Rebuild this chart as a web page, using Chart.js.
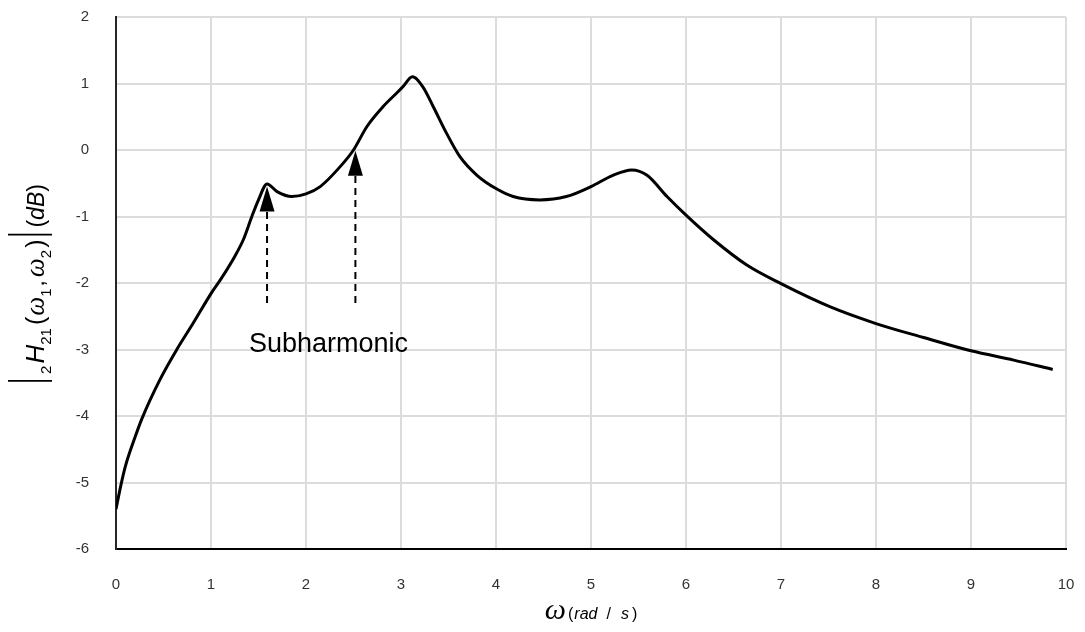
<!DOCTYPE html>
<html>
<head>
<meta charset="utf-8">
<script src="https://cdn.jsdelivr.net/npm/chart.js@4.4.0/dist/chart.umd.min.js"></script>
<style>
  html, body { margin: 0; padding: 0; background: #fff; }
  #wrap { width: 1085px; height: 632px; }
</style>
</head>
<body>
<div id="wrap"><canvas id="chart" width="1085" height="632"></canvas></div>
<script>
// 1. Data
const omega = [0, 0.05, 0.1, 0.2, 0.27, 0.46, 0.64, 0.81, 1.0, 1.1, 1.25, 1.34, 1.43, 1.5, 1.59, 1.7, 1.85, 2.0, 2.15, 2.36, 2.5, 2.64, 2.81, 2.95, 3.02, 3.12, 3.23, 3.34, 3.48, 3.62, 3.8, 4.0, 4.18, 4.46, 4.74, 5.0, 5.23, 5.43, 5.59, 5.8, 6.0, 6.29, 6.64, 7.0, 7.52, 8.0, 8.5, 9.0, 9.45, 9.86];
const magnitude = [-5.4, -5.05, -4.75, -4.32, -4.05, -3.46, -3.0, -2.61, -2.16, -1.95, -1.6, -1.35, -1.0, -0.75, -0.51, -0.63, -0.70, -0.66, -0.55, -0.25, 0.0, 0.35, 0.65, 0.85, 0.95, 1.1, 0.95, 0.65, 0.25, -0.1, -0.38, -0.58, -0.70, -0.75, -0.70, -0.55, -0.38, -0.30, -0.38, -0.70, -0.98, -1.35, -1.73, -2.01, -2.36, -2.61, -2.82, -3.02, -3.16, -3.3];

const xRange = [0, 10];
const yRange = [-6, 2];

// arrows pointing at the subharmonic peaks
const arrowX = [1.59, 2.52];
const arrowTipY = [-0.55, -0.01];
const arrowTailY = -2.3;
const noteText = "Subharmonic";
const notePos = [1.4, -3.04]; // left / baseline

// 2. Plugin: arrows + annotation text
const annotations = {
  id: "annotations",
  afterDatasetsDraw(chart) {
    const ctx = chart.ctx;
    const xs = chart.scales.x, ys = chart.scales.y;
    ctx.save();
    arrowX.forEach((ax, i) => {
      const px = xs.getPixelForValue(ax);
      const tip = ys.getPixelForValue(arrowTipY[i]);
      const tail = ys.getPixelForValue(arrowTailY);
      const headLen = 25, headHalf = 7.5;
      // dashed shaft
      ctx.beginPath();
      ctx.setLineDash([7, 5]);
      ctx.lineWidth = 2;
      ctx.strokeStyle = "#000";
      ctx.moveTo(px, tail);
      ctx.lineTo(px, tip + headLen);
      ctx.stroke();
      ctx.setLineDash([]);
      // head
      ctx.beginPath();
      ctx.fillStyle = "#000";
      ctx.moveTo(px, tip);
      ctx.lineTo(px - headHalf, tip + headLen);
      ctx.lineTo(px + headHalf, tip + headLen);
      ctx.closePath();
      ctx.fill();
    });
    ctx.font = "27px 'Liberation Sans', Arial, sans-serif";
    ctx.fillStyle = "#000";
    ctx.textAlign = "left";
    ctx.textBaseline = "alphabetic";
    ctx.fillText(noteText, xs.getPixelForValue(notePos[0]), ys.getPixelForValue(notePos[1]));
    ctx.restore();
  }
};

// 3. Plugin: axis titles with math-like pieces
const SANS = "'Liberation Sans', Arial, sans-serif";
const SERIF = "'Liberation Serif', 'Times New Roman', serif";

function drawRun(ctx, parts) {
  // parts: {t, f, dy, gap, bar}
  let x = 0;
  parts.forEach(p => {
    x += p.gap || 0;
    if (p.bar) {
      ctx.beginPath();
      ctx.lineWidth = 1.8;
      ctx.strokeStyle = "#000";
      ctx.moveTo(x + 1, p.bar[0]);
      ctx.lineTo(x + 1, p.bar[1]);
      ctx.stroke();
      x += 2;
      return;
    }
    ctx.font = p.f;
    ctx.fillText(p.t, x, p.dy || 0);
    x += ctx.measureText(p.t).width;
  });
  return x;
}

function runWidth(ctx, parts) {
  let x = 0;
  parts.forEach(p => {
    x += p.gap || 0;
    if (p.bar) { x += 2; return; }
    ctx.font = p.f;
    x += ctx.measureText(p.t).width;
  });
  return x;
}

const yTitleParts = [
  { bar: [-36, 8] },
  { t: "2", f: "15px " + SANS, dy: 7, gap: 6 },
  { t: "H", f: "italic 26px " + SANS, gap: 2 },
  { t: "21", f: "15px " + SANS, dy: 7 },
  { t: "(", f: "25px " + SANS, gap: 3 },
  { t: "ω", f: "italic 27px " + SERIF, gap: 1 },
  { t: "1", f: "15px " + SANS, dy: 7 },
  { t: ",", f: "22px " + SANS, gap: 2 },
  { t: "ω", f: "italic 27px " + SERIF, gap: 3 },
  { t: "2", f: "15px " + SANS, dy: 7 },
  { t: ")", f: "25px " + SANS, gap: 2 },
  { bar: [-36, 8], gap: 4 },
  { t: "(", f: "23px " + SANS, gap: 6 },
  { t: "dB", f: "italic 23px " + SANS },
  { t: ")", f: "23px " + SANS }
];

const xTitleParts = [
  { t: "ω", f: "italic 30px " + SERIF },
  { t: "(", f: "16px " + SANS, gap: 2 },
  { t: "rad", f: "italic 16px " + SANS, gap: 1 },
  { t: "/", f: "16px " + SANS, gap: 9 },
  { t: "s", f: "italic 16px " + SANS, gap: 10 },
  { t: ")", f: "16px " + SANS, gap: 3 }
];

const axisTitles = {
  id: "axisTitles",
  afterDraw(chart) {
    const ctx = chart.ctx;
    const area = chart.chartArea;
    ctx.save();
    ctx.fillStyle = "#000";
    ctx.textAlign = "left";
    ctx.textBaseline = "alphabetic";
    // y title, rotated
    const wy = runWidth(ctx, yTitleParts);
    const cy = (area.top + area.bottom) / 2;
    ctx.save();
    ctx.translate(44, cy + wy / 2);
    ctx.rotate(-Math.PI / 2);
    drawRun(ctx, yTitleParts);
    ctx.restore();
    // x title
    const wx = runWidth(ctx, xTitleParts);
    const cx = (area.left + area.right) / 2;
    ctx.save();
    ctx.translate(cx - wx / 2, 619);
    drawRun(ctx, xTitleParts);
    ctx.restore();
    ctx.restore();
  }
};

// keep the tick label overhang from pushing the plot area inwards
function noOverhang(s) {
  s.paddingTop = 0;
  s.paddingBottom = 0;
  s.paddingLeft = 0;
  s.paddingRight = 0;
}

// 4. Build chart
const points = omega.map((w, i) => ({ x: w, y: magnitude[i] }));

new Chart(document.getElementById("chart"), {
  type: "line",
  data: {
    datasets: [{
      data: points,
      borderColor: "#000",
      borderWidth: 3,
      pointRadius: 0,
      fill: false,
      cubicInterpolationMode: "monotone"
    }]
  },
  options: {
    responsive: false,
    devicePixelRatio: 1,
    animation: false,
    layout: { padding: { top: 17, right: 19, left: 0, bottom: 0 } },
    plugins: { legend: { display: false }, tooltip: { enabled: false } },
    scales: {
      x: {
        type: "linear",
        min: xRange[0],
        max: xRange[1],
        afterFit: s => { s.height = 83; noOverhang(s); },
        ticks: { stepSize: 1, padding: 27, color: "#333", font: { size: 15, family: SANS } },
        grid: { color: "#dcdcdc", lineWidth: 2, drawTicks: false },
        border: { color: "#000", width: 2 }
      },
      y: {
        min: yRange[0],
        max: yRange[1],
        afterFit: s => { s.width = 116; noOverhang(s); },
        ticks: { stepSize: 1, padding: 27, color: "#333", font: { size: 15, family: SANS } },
        grid: { color: "#dcdcdc", lineWidth: 2, drawTicks: false },
        border: { color: "#262626", width: 2 }
      }
    }
  },
  plugins: [annotations, axisTitles]
});
</script>
</body>
</html>
